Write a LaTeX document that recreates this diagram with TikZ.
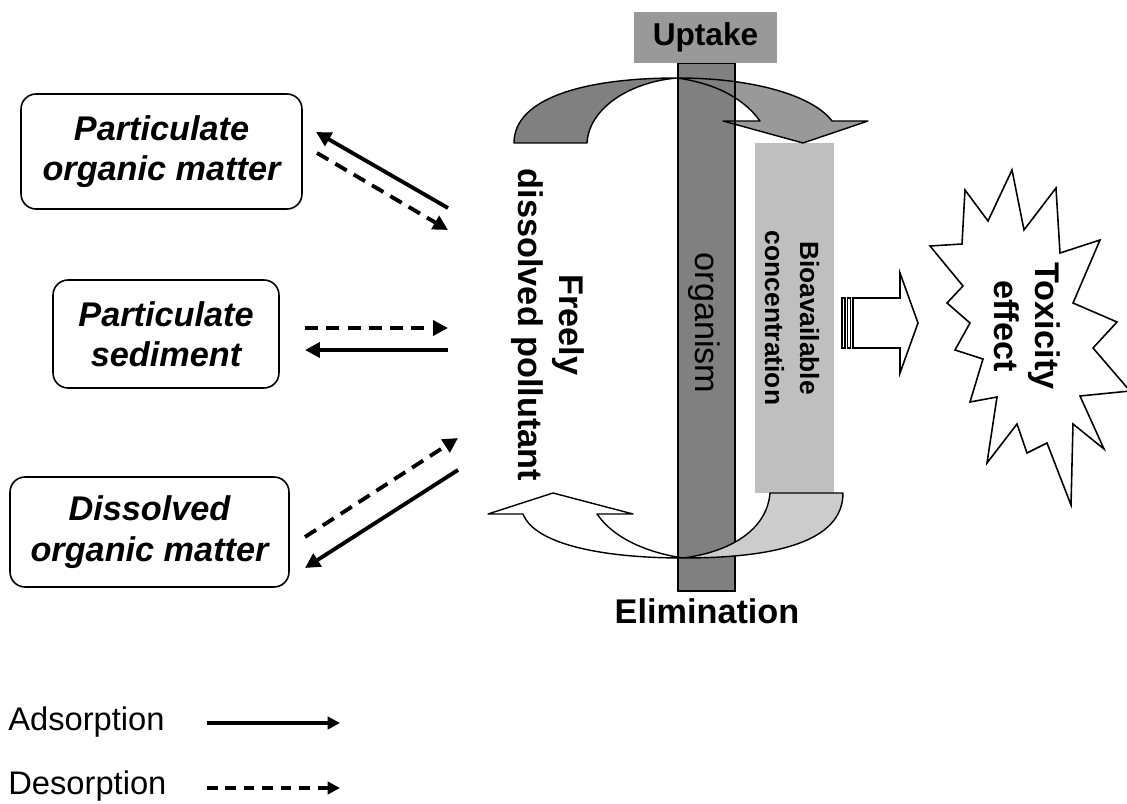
\documentclass[tikz,border=0pt]{standalone}
\usepackage{fontspec}
\setmainfont{Liberation Sans}
\usetikzlibrary{positioning, calc, arrows.meta}

% outlines of the two curved arrows (reused for fill and outline)
\newcommand{\uptakeLeft}{(514,143) .. controls (514,98) and (585,78) .. (677,78) .. controls (630,82) and (589,108) .. (587,143) -- cycle}
\newcommand{\uptakeRight}{(677,78) .. controls (760,78) and (815,98) .. (832,121) -- (868,121) -- (803,143) -- (723,121) -- (760,121) .. controls (742,96) and (712,83) .. (677,78) -- cycle}

\begin{document}
\begin{tikzpicture}[x=0.02cm, y=-0.02cm,
    phase/.style={draw, rounded corners=0.3cm, line width=0.9pt, align=center, inner sep=0pt,
        font=\fontsize{19.5}{23}\selectfont\bfseries\itshape},
    adsorb/.style={line width=2.2pt, -{Triangle[length=8.5pt,width=8.5pt]}},
    desorb/.style={adsorb, dash pattern=on 7.5pt off 4.6pt},
    keyline/.style={line width=2pt, -{Triangle[length=7pt,width=7pt]}},
    keydash/.style={keyline, dash pattern=on 6pt off 4.5pt},
    vlabel/.style={rotate=-90, align=center, inner sep=0pt, font=\fontsize{19.5}{23.5}\selectfont\bfseries},
    arcline/.style={draw=black, line width=0.8pt, line join=round}
]
    \useasboundingbox (0,0) rectangle (1127,804);

    % --- ORGANISM ---
    % bioavailable pool behind the uptake arrow
    \fill[black!25] (755,143) rectangle (834,493);

    % uptake arrow, fill first so that the bar sits on it
    \fill[black!50] \uptakeLeft;
    \fill[black!40] \uptakeRight;

    % organism bar
    \draw[fill=black!50, line width=0.8pt] (678,63) rectangle (735,591);

    % uptake arrow outline over the bar
    \draw[arcline] \uptakeLeft;
    \draw[arcline] \uptakeRight;

    \node[fill=black!40, minimum width=2.86cm, minimum height=1.02cm, inner sep=0pt,
        font=\fontsize{18}{20}\selectfont\bfseries] (uptake) at (705.5,37.5) {Uptake};

    % elimination arrow
    \draw[arcline, fill=black!20] (843,493) .. controls (843,542) and (775,558) .. (683,558)
        .. controls (730,552) and (767,530) .. (770,493) -- cycle;
    \draw[arcline, fill=white] (683,558) .. controls (605,558) and (535,545) .. (523,514)
        -- (488,514) -- (553,493) -- (633,514) -- (597,514)
        .. controls (615,540) and (650,553) .. (683,558) -- cycle;

    \node[font=\fontsize{19.5}{23}\selectfont\bfseries] (elimination) at (707,611) {Elimination};

    % vertical labels
    \node[rotate=-90, inner sep=0pt, text=black, font=\fontsize{19.5}{23}\selectfont] (organism) at (704,323) {organism};
    \node[vlabel] (pollutant) at (548,325) {Freely\\dissolved pollutant};
    \node[vlabel, font=\fontsize{15}{20}\selectfont\bfseries] (bioavail) at (792,318) {Bioavailable\\concentration};

    % --- PHASES ---
    \node[phase, minimum width=5.62cm, minimum height=2.3cm] (pom) at (161.5,151.5) {Particulate\\organic matter};
    \node[phase, minimum width=4.52cm, minimum height=2.16cm] (sed) at (166,334) {Particulate\\sediment};
    \node[phase, minimum width=5.58cm, minimum height=2.2cm] (dom) at (149.5,532) {Dissolved\\organic matter};

    % exchange with the dissolved phase
    \coordinate (pomA) at (448,208);
    \coordinate (pomB) at (316,132);
    \coordinate (pomC) at (317,153);
    \coordinate (pomD) at (448,230);
    \coordinate (sedA) at (305,328);
    \coordinate (sedB) at (448,328);
    \coordinate (sedC) at (448,350);
    \coordinate (sedD) at (305,350);
    \coordinate (domA) at (305,537);
    \coordinate (domB) at (458,438);
    \coordinate (domC) at (458,470);
    \coordinate (domD) at (305,568);

    \draw[adsorb] (pomA) -- (pomB);
    \draw[desorb] (pomC) -- (pomD);
    \draw[desorb] (sedA) -- (sedB);
    \draw[adsorb] (sedC) -- (sedD);
    \draw[desorb] (domA) -- (domB);
    \draw[adsorb] (domC) -- (domD);

    % --- TOXICITY ---
    % striped block arrow
    \draw[line width=0.9pt, fill=white] (853,298) -- (900,298) -- (900,273) -- (918,323)
        -- (900,373) -- (900,348) -- (853,348) -- cycle;
    \draw[line width=0.9pt, fill=white] (842,298) rectangle (845,348);
    \draw[line width=0.9pt, fill=white] (847.5,298) rectangle (850.5,348);

    % explosion
    \draw[line width=0.9pt, line join=miter, fill=white]
        (1012,170) -- (1024,230) -- (1056,188) -- (1060,253) -- (1100,240) -- (1073,303)
        -- (1117,322) -- (1093,348) -- (1130,391) -- (1080,396) -- (1104,449) -- (1073,424)
        -- (1071,505) -- (1047,443) -- (1027,453) -- (1017,424) -- (987,463) -- (997,397)
        -- (970,402) -- (983,359) -- (955,350) -- (970,323) -- (947,303) -- (963,286)
        -- (930,246) -- (962,244) -- (965,190) -- (988,221) -- cycle;
    \node[vlabel] (toxicity) at (1027,326) {Toxicity\\effect};

    % --- LEGEND ---
    \node[anchor=west, inner sep=0pt, font=\fontsize{18.6}{22}\selectfont] (adslabel) at (8,722) {Adsorption};
    \node[anchor=west, inner sep=0pt, font=\fontsize{18.6}{22}\selectfont] (deslabel) at (8,786) {Desorption};
    \coordinate (adsA) at (207,723);
    \coordinate (adsB) at (340,723);
    \coordinate (desA) at (207,788);
    \coordinate (desB) at (340,788);
    \draw[keyline] (adsA) -- (adsB);
    \draw[keydash] (desA) -- (desB);

\end{tikzpicture}
\end{document}
